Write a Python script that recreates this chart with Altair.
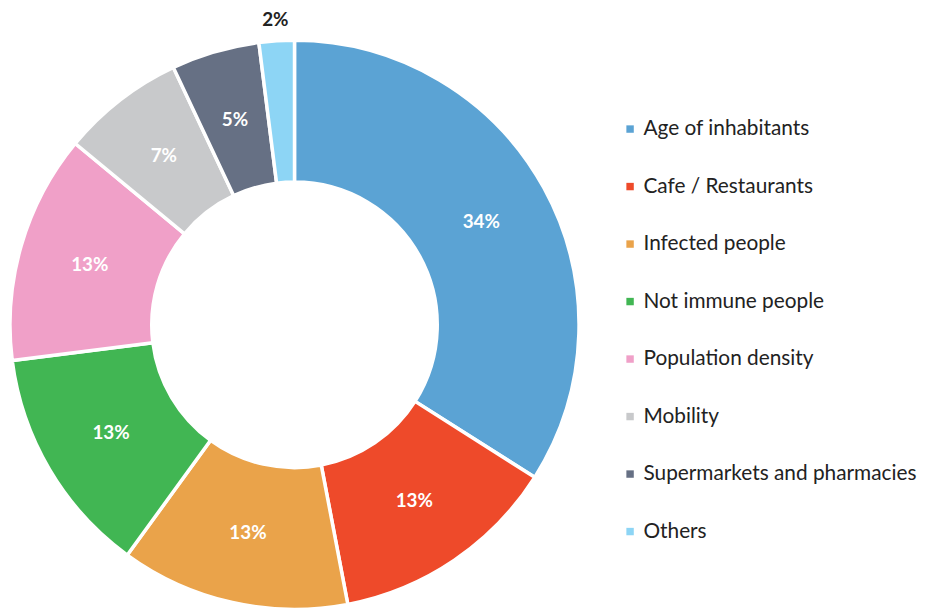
import altair as alt
import pandas as pd

categories = ["Age of inhabitants", "Cafe / Restaurants", "Infected people",
              "Not immune people", "Population density", "Mobility",
              "Supermarkets and pharmacies", "Others"]
values = [34, 13, 13, 13, 13, 7, 5, 2]
labels = ["34%", "13%", "13%", "13%", "13%", "7%", "5%", "2%"]
colors = ["#5BA3D4", "#EE4A2A", "#EAA34A", "#41B653", "#F0A0C8", "#C8C9CB",
          "#667084", "#8DD5F5"]

df = pd.DataFrame({
    "category": categories,
    "value": values,
    "label": labels,
    "idx": list(range(len(categories))),
})

CX, CY = 289, 317
FONT = "Lato"

base = alt.Chart(df).encode(
    theta=alt.Theta("value:Q", stack=True),
    order=alt.Order("idx:Q", sort="ascending"),
)

arc = base.mark_arc(
    x=CX, y=CY, outerRadius=287, innerRadius=144,
    stroke="white", strokeWidth=3.5,
).encode(
    color=alt.Color(
        "category:N",
        scale=alt.Scale(domain=categories, range=colors),
        sort=categories,
        legend=alt.Legend(
            title=None, orient="none", legendX=617, legendY=109,
            symbolType="square", symbolSize=56, symbolStrokeWidth=0,
            labelFont=FONT, labelFontSize=21, labelColor="#222222",
            labelOffset=3, rowPadding=36, labelLimit=400,
        ),
    )
)

inner_text = base.transform_calculate(
    t="datum.category == 'Others' ? '' : datum.label"
).mark_text(
    x=CX, y=CY, radius=215, font=FONT, fontSize=19, fontWeight="bold",
    color="white",
).encode(text="t:N")

outer_text = base.transform_calculate(
    t="datum.category == 'Others' ? datum.label : ''"
).mark_text(
    x=CX, y=CY, radius=308, font=FONT, fontSize=19, fontWeight="bold",
    color="#222222",
).encode(text="t:N")

chart = alt.layer(arc, inner_text, outer_text).properties(
    width=926, height=601, padding=0, autosize=alt.AutoSizeParams(type="none"),
).configure_view(stroke=None)

chart.save("out.html", embed_options={"renderer": "svg", "actions": False})
